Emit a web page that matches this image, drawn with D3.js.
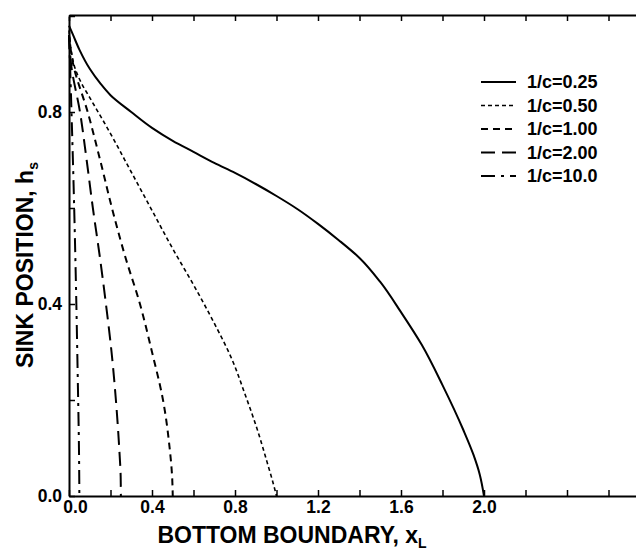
<!DOCTYPE html>
<html lang="en">
<head>
    <meta charset="utf-8">
    <title>Sink position</title>
    <script type="text/javascript" src="https://d3js.org/d3.v7.min.js"></script>
    <style>
        body { margin: 0; background: white; }
        svg { display: block; }
        g.tick text {
            font-family: "Liberation Sans", Arial, sans-serif;
            font-weight: bold;
            font-size: 17.5px;
            fill: black;
        }
        .title {
            font-family: "Liberation Sans", Arial, sans-serif;
            font-weight: bold;
            font-size: 23px;
        }
        .legend text {
            font-family: "Liberation Sans", Arial, sans-serif;
            font-weight: bold;
            font-size: 18px;
        }
    </style>
</head>
<body>
    <div id="chart"></div>
    <script type="text/javascript">
        // legend labels
        const seriesNames = ["1/c=0.25", "1/c=0.50", "1/c=1.00", "1/c=2.00", "1/c=10.0"];

        // bottom boundary x_L and sink position h_s
        const xL_025 = [0, 0.02, 0.05, 0.1, 0.15, 0.2, 0.3, 0.4, 0.5, 0.6, 0.7, 0.8, 0.9, 1.0, 1.1, 1.2, 1.3, 1.4, 1.5, 1.6, 1.7, 1.8, 1.9, 1.95, 1.98, 2.0];
        const hs_025 = [0.98, 0.96, 0.93, 0.89, 0.86, 0.835, 0.80, 0.767, 0.74, 0.717, 0.694, 0.673, 0.65, 0.625, 0.598, 0.567, 0.533, 0.496, 0.446, 0.383, 0.315, 0.231, 0.138, 0.085, 0.044, 0];

        const xL_050 = [0, 0.01, 0.03, 0.06, 0.1, 0.2, 0.3, 0.4, 0.5, 0.6, 0.7, 0.78, 0.85, 0.91, 0.955, 0.985, 1.0];
        const hs_050 = [0.97, 0.93, 0.89, 0.86, 0.83, 0.755, 0.675, 0.595, 0.515, 0.44, 0.36, 0.29, 0.21, 0.135, 0.07, 0.025, 0];

        const xL_100 = [0, 0.02, 0.09, 0.15, 0.207, 0.27, 0.342, 0.40, 0.453, 0.485, 0.497, 0.5];
        const hs_100 = [0.96, 0.90, 0.80, 0.70, 0.60, 0.50, 0.40, 0.30, 0.20, 0.10, 0.04, 0];

        const xL_200 = [0, 0.01, 0.053, 0.085, 0.115, 0.148, 0.178, 0.205, 0.226, 0.242, 0.249, 0.25];
        const hs_200 = [0.96, 0.90, 0.80, 0.70, 0.60, 0.50, 0.40, 0.30, 0.20, 0.10, 0.04, 0];

        const xL_10 = [0, 0.005, 0.012, 0.022, 0.033, 0.042, 0.048, 0.05];
        const hs_10 = [0.96, 0.90, 0.80, 0.65, 0.45, 0.25, 0.10, 0];

        // ticks
        const xTicks = [0, 0.2, 0.4, 0.6, 0.8, 1.0, 1.2, 1.4, 1.6, 1.8, 2.0, 2.2, 2.4, 2.6];
        const xLabels = [0, 0.4, 0.8, 1.2, 1.6, 2.0];
        const yTicks = [0, 0.2, 0.4, 0.6, 0.8, 1.0];
        const yLabels = [0, 0.4, 0.8];

        const width = 636;
        const height = 550;
        const marginLeft = 69;
        const marginTop = 15;
        const plotBottom = 496;
        const pxPerUnit = 207.5;

        const dashes = [null, "4,3", "7,5", "14,7", "14,6,3,6"];
        const widths = [2, 1.6, 2, 2, 2];

        const series = [
            xL_025.map((d, i) => ({x: d, h: hs_025[i]})),
            xL_050.map((d, i) => ({x: d, h: hs_050[i]})),
            xL_100.map((d, i) => ({x: d, h: hs_100[i]})),
            xL_200.map((d, i) => ({x: d, h: hs_200[i]})),
            xL_10.map((d, i) => ({x: d, h: hs_10[i]}))
        ];

        const svg = d3.select("#chart")
            .append("svg")
            .attr("width", width)
            .attr("height", height);

        const x = d3.scaleLinear()
            .domain([0, 2.8])
            .range([marginLeft, marginLeft + 2.8 * pxPerUnit]);

        const y = d3.scaleLinear()
            .domain([0, 1.0])
            .range([plotBottom, marginTop + 1]);

        const fmt = d3.format(".1f");
        const isLabel = (list) => (d => list.some(v => Math.abs(v - d) < 1e-6) ? fmt(d) : "");

        // bottom axis, ticks pointing inward
        const xAxis = svg.append("g")
            .attr("transform", `translate(0,${plotBottom})`)
            .call(d3.axisBottom(x)
                .tickValues(xTicks)
                .tickSizeInner(-6)
                .tickSizeOuter(0)
                .tickPadding(5)
                .tickFormat(isLabel(xLabels)));
        // the 0.0 label sits a little right of the corner
        xAxis.selectAll(".tick text").filter(d => d === 0).attr("dx", 6);

        // top axis, no labels
        svg.append("g")
            .attr("transform", `translate(0,${marginTop})`)
            .call(d3.axisTop(x)
                .tickValues(xTicks)
                .tickSizeInner(-6)
                .tickSizeOuter(0)
                .tickFormat(""));

        // left axis
        svg.append("g")
            .attr("transform", `translate(${marginLeft},0)`)
            .call(d3.axisLeft(y)
                .tickValues(yTicks)
                .tickSizeInner(-6)
                .tickSizeOuter(0)
                .tickPadding(7)
                .tickFormat(isLabel(yLabels)));

        svg.selectAll(".domain").attr("stroke-width", 2);
        svg.selectAll(".tick line").attr("stroke-width", 1.5);

        // curves
        const line = d3.line()
            .x(d => x(d.x))
            .y(d => y(d.h))
            .curve(d3.curveMonotoneY);

        svg.append("g")
            .selectAll("path")
            .data(series)
            .enter()
            .append("path")
                .attr("d", line)
                .attr("fill", "none")
                .attr("stroke", "black")
                .attr("stroke-width", (d, i) => widths[i])
                .attr("stroke-dasharray", (d, i) => dashes[i]);

        // legend
        const legend = svg.append("g").attr("class", "legend");
        const rows = legend.selectAll("g")
            .data(seriesNames)
            .enter()
            .append("g")
                .attr("transform", (d, i) => `translate(481,${82 + i * 23.5})`);

        rows.append("line")
            .attr("x1", 0)
            .attr("x2", 35)
            .attr("stroke", "black")
            .attr("stroke-width", (d, i) => widths[i])
            .attr("stroke-dasharray", (d, i) => dashes[i]);

        rows.append("text")
            .attr("x", 46)
            .attr("dy", "0.35em")
            .text(d => d);

        // axis titles
        const xt = svg.append("text")
            .attr("class", "title")
            .attr("x", 292)
            .attr("y", 543)
            .attr("text-anchor", "middle");
        xt.append("tspan").text("BOTTOM BOUNDARY, x");
        xt.append("tspan").attr("font-size", "14px").attr("dy", 5).text("L");

        const yt = svg.append("text")
            .attr("class", "title")
            .attr("transform", "translate(33,265) rotate(-90)")
            .attr("text-anchor", "middle");
        yt.append("tspan").text("SINK POSITION, h");
        yt.append("tspan").attr("font-size", "14px").attr("dy", 5).text("s");
    </script>
</body>
</html>
